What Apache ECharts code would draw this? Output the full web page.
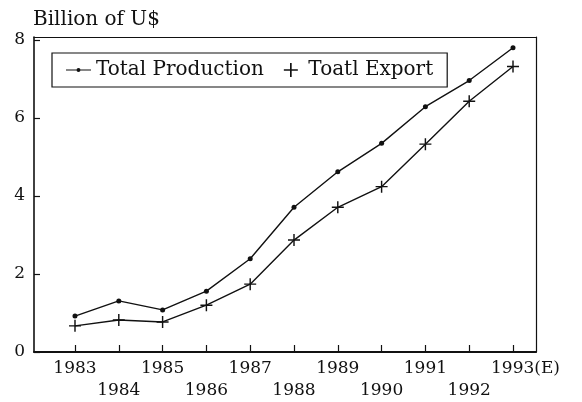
<!DOCTYPE html>
<html>
<head>
<meta charset="utf-8">
<script src="https://cdn.jsdelivr.net/npm/echarts@6/dist/echarts.min.js"></script>
<style>
  html, body { margin: 0; padding: 0; background: #fff; }
  #chart { width: 582px; height: 402px; }
</style>
</head>
<body>
<div id="chart"></div>
<script>
// years on the x axis, 1993 is an estimate
const years = [1983, 1984, 1985, 1986, 1987, 1988, 1989, 1990, 1991, 1992, 1993];
const upperYears = [1983, 1985, 1987, 1989, 1991, 1993];
const lowerYears = [1984, 1986, 1988, 1990, 1992];
const yTicks = [0, 2, 4, 6, 8];

// billion of U$
const totalProduction = [0.92, 1.31, 1.08, 1.56, 2.39, 3.71, 4.62, 5.35, 6.29, 6.96, 7.80];
const totalExport = [0.67, 0.82, 0.77, 1.20, 1.74, 2.87, 3.71, 4.24, 5.33, 6.43, 7.32];

const FONT = 'DejaVu Serif';
const INK = '#111';

const plusPath = 'path://M0,4.4H10V5.6H0Z M4.4,0H5.6V10H4.4Z';
const dotLinePath = 'path://M0,1.4H25V2.6H0Z M10.5,2A2,2 0 1 1 14.5,2A2,2 0 1 1 10.5,2Z';

const xMin = 1982.064, xMax = 1993.525;
const yMax = 8.077;

const labelFont = { fontFamily: FONT, fontSize: 17, color: INK };

// bare axis, pieces switched on by the caller
function bareAxis(pos, min, max, extra) {
  return Object.assign({
    type: 'value',
    position: pos,
    min: min,
    max: max,
    axisLine: { show: false, onZero: false },
    axisTick: { show: false },
    axisLabel: { show: false },
    splitLine: { show: false }
  }, extra);
}

function frameLine(pos, min, max, width) {
  return bareAxis(pos, min, max, {
    axisLine: { show: true, onZero: false, lineStyle: { color: INK, width: width } }
  });
}

const chart = echarts.init(document.getElementById('chart'), null, { renderer: 'canvas' });

const option = {
  backgroundColor: '#fff',
  animation: false,
  title: {
    text: 'Billion of U$',
    left: 28,
    top: 5,
    textStyle: { fontFamily: FONT, fontSize: 20, fontWeight: 'normal', color: INK }
  },
  legend: {
    left: 52,
    top: 53,
    padding: [7, 14, 7, 14],
    borderColor: INK,
    borderWidth: 1.2,
    itemWidth: 25,
    itemHeight: 14,
    itemGap: 20,
    textStyle: { fontFamily: FONT, fontSize: 20, color: INK },
    data: [
      { name: 'Total Production', icon: dotLinePath },
      { name: 'Toatl Export', icon: plusPath }
    ]
  },
  grid: { left: 34, right: 46, top: 37, bottom: 50, show: false },
  xAxis: [
    // data axis, shifted 7px up so its outward ticks end on the axis line
    bareAxis('bottom', xMin, xMax, {
      offset: -7,
      axisLine: { show: true, onZero: false, lineStyle: { color: INK, width: 2, opacity: 0 } },
      axisTick: {
        show: true,
        inside: false,
        length: 7,
        customValues: years,
        lineStyle: { color: INK, width: 1.2 }
      },
      axisLabel: Object.assign({
        show: true,
        customValues: upperYears,
        margin: 15,
        formatter: function (v) {
          const y = Math.round(v);
          return y === 1993 ? '{p|}1993(E)' : String(y);
        },
        rich: { p: { width: 25 } }
      }, labelFont)
    }),
    // lower row of years
    bareAxis('bottom', xMin, xMax, {
      offset: 22,
      axisLabel: Object.assign({
        show: true,
        customValues: lowerYears,
        margin: 8,
        formatter: function (v) { return String(Math.round(v)); }
      }, labelFont)
    }),
    frameLine('bottom', xMin, xMax, 2),
    frameLine('top', xMin, xMax, 1.2)
  ],
  yAxis: [
    // data axis, shifted 6px right so its outward ticks end on the axis line
    bareAxis('left', 0, yMax, {
      offset: -6,
      axisLine: { show: true, onZero: false, lineStyle: { color: INK, width: 1.6, opacity: 0 } },
      axisTick: {
        show: true,
        inside: false,
        length: 6,
        customValues: yTicks,
        lineStyle: { color: INK, width: 1.2 }
      },
      axisLabel: Object.assign({ show: true, customValues: yTicks, margin: 15 }, labelFont)
    }),
    frameLine('left', 0, yMax, 1.6),
    frameLine('right', 0, yMax, 1.2)
  ],
  series: [
    {
      name: 'Total Production',
      type: 'line',
      xAxisIndex: 0,
      yAxisIndex: 0,
      data: years.map((y, i) => [y, totalProduction[i]]),
      symbol: 'circle',
      symbolSize: 5,
      itemStyle: { color: INK },
      lineStyle: { color: INK, width: 1.4 }
    },
    {
      name: 'Toatl Export',
      type: 'line',
      xAxisIndex: 0,
      yAxisIndex: 0,
      data: years.map((y, i) => [y, totalExport[i]]),
      symbol: plusPath,
      symbolSize: 12,
      itemStyle: { color: INK },
      lineStyle: { color: INK, width: 1.4 }
    }
  ]
};

chart.setOption(option);
</script>
</body>
</html>
